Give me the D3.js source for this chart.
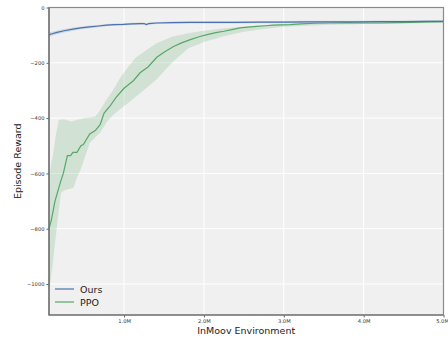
<!DOCTYPE html>
<html>
<head>
<meta charset="utf-8">
<script src="https://cdn.jsdelivr.net/npm/d3@7"></script>
<style>
  body { margin: 0; background: #ffffff; }
  text { font-family: "DejaVu Sans", sans-serif; }
</style>
</head>
<body>
<div id="chart"></div>
<script>
// x in millions of steps
const xTicks = [1, 2, 3, 4, 5];
const yTicks = [0, -200, -400, -600, -800, -1000];

// Ours (blue)
const oursX    = [0.06, 0.1, 0.16, 0.25, 0.36, 0.46, 0.57, 0.68, 0.78, 0.88, 0.99, 1.1, 1.2, 1.25, 1.28, 1.31, 1.41, 1.6, 1.83, 2.1, 2.4, 2.7, 3.0, 3.3, 3.6, 3.9, 4.2, 4.5, 4.8, 5.0];
const oursMean = [-98, -95, -90, -84, -78, -74, -70, -67, -64, -62, -61, -59, -58, -58, -62, -58, -56, -55, -54, -54, -54, -53, -53, -52, -52, -52, -51, -51, -50, -50];
const oursLo   = [-106, -102, -97, -90, -84, -79, -75, -71, -68, -66, -65, -63, -62, -62, -66, -62, -60, -59, -58, -58, -58, -57, -57, -56, -56, -56, -55, -55, -54, -54];
const oursHi   = [-90, -88, -84, -78, -72, -69, -65, -63, -60, -58, -57, -55, -54, -54, -58, -54, -52, -51, -50, -50, -50, -49, -49, -48, -48, -48, -47, -47, -46, -46];

// PPO (green)
const ppoX    = [0.06, 0.09, 0.135, 0.18, 0.21, 0.24, 0.29, 0.33, 0.36, 0.41, 0.46, 0.49, 0.57, 0.64, 0.7, 0.75, 0.82, 0.9, 1.0, 1.05, 1.12, 1.2, 1.3, 1.41, 1.5, 1.62, 1.72, 1.83, 1.95, 2.04, 2.15, 2.25, 2.35, 2.45, 2.55, 2.66, 2.77, 2.87, 2.97, 3.08, 3.21, 3.4, 3.58, 3.8, 4.0, 4.21, 4.4, 4.59, 4.8, 5.0];
const ppoMean = [-800, -768, -700, -655, -625, -599, -536, -536, -524, -524, -500, -496, -457, -445, -424, -382, -358, -325, -292, -280, -264, -236, -215, -180, -162, -141, -128, -116, -105, -98, -91, -86, -80, -74, -71, -68, -66, -64, -63, -62, -59, -57, -56, -55, -56, -56, -55, -54, -52, -51];

const bandX  = [0.06, 0.09, 0.11, 0.14, 0.18, 0.21, 0.25, 0.29, 0.33, 0.37, 0.41, 0.45, 0.5, 0.57, 0.64, 0.7, 0.78, 0.86, 0.95, 1.05, 1.15, 1.25, 1.4, 1.6, 1.8, 2.0, 2.25, 2.5, 2.75, 3.0, 3.5, 4.0, 4.5, 5.0];
const ppoLo  = [-1040, -965, -920, -840, -740, -670, -662, -658, -655, -650, -615, -590, -550, -490, -470, -453, -415, -390, -368, -345, -322, -298, -262, -200, -148, -125, -104, -88, -78, -70, -63, -60, -58, -55];
const ppoHi  = [-620, -560, -534, -470, -408, -405, -404, -408, -412, -410, -406, -404, -400, -398, -394, -372, -334, -300, -255, -215, -180, -160, -130, -106, -93, -84, -75, -69, -64, -59, -55, -52, -50, -46];

const W = 448, H = 338;
const margin = {left: 49, right: 4.5, top: 7.5, bottom: 23};

const svg = d3.select('#chart').append('svg')
  .attr('width', W).attr('height', H);

const x = d3.scaleLinear().domain([0.06, 5.0]).range([margin.left, W - margin.right]);
const y = d3.scaleLinear().domain([-1112, 0]).range([H - margin.bottom, margin.top]);

// background
svg.append('rect')
  .attr('x', margin.left).attr('y', margin.top)
  .attr('width', W - margin.right - margin.left)
  .attr('height', H - margin.bottom - margin.top)
  .attr('fill', '#f0f0f0');

// grid
svg.append('g').selectAll('line').data(xTicks).enter().append('line')
  .attr('x1', d => x(d)).attr('x2', d => x(d))
  .attr('y1', margin.top).attr('y2', H - margin.bottom)
  .attr('stroke', '#ffffff').attr('stroke-width', 1);
svg.append('g').selectAll('line').data(yTicks).enter().append('line')
  .attr('y1', d => y(d)).attr('y2', d => y(d))
  .attr('x1', margin.left).attr('x2', W - margin.right)
  .attr('stroke', '#ffffff').attr('stroke-width', 1);

const plot = svg.append('g');

// bands
const ppoBand = bandX.map((d, i) => ({x: d, lo: ppoLo[i], hi: ppoHi[i]}));
const oursBand = oursX.map((d, i) => ({x: d, lo: oursLo[i], hi: oursHi[i]}));
const area = d3.area().x(d => x(d.x)).y0(d => y(d.lo)).y1(d => y(d.hi));

plot.append('path').datum(ppoBand).attr('d', area)
  .attr('fill', '#55a868').attr('fill-opacity', 0.2);
plot.append('path').datum(oursBand).attr('d', area)
  .attr('fill', '#4c72b0').attr('fill-opacity', 0.2);

// lines
const line = d3.line().x(d => x(d[0])).y(d => y(d[1]));
plot.append('path').datum(ppoX.map((d, i) => [d, ppoMean[i]])).attr('d', line)
  .attr('fill', 'none').attr('stroke', '#55a868').attr('stroke-width', 1.2);
plot.append('path').datum(oursX.map((d, i) => [d, oursMean[i]])).attr('d', line)
  .attr('fill', 'none').attr('stroke', '#4c72b0').attr('stroke-width', 1.2);

// axes
const fmtX = d => d.toFixed(1) + 'M';
const fmtY = d => d < 0 ? '\u2212' + Math.abs(d) : String(d);

const xAxis = svg.append('g')
  .attr('transform', 'translate(0,' + (H - margin.bottom) + ')')
  .call(d3.axisBottom(x).tickValues(xTicks).tickFormat(fmtX).tickSize(2.5).tickPadding(2));
const yAxis = svg.append('g')
  .attr('transform', 'translate(' + margin.left + ',0)')
  .call(d3.axisLeft(y).tickValues(yTicks).tickFormat(fmtY).tickSize(2.5).tickPadding(2));

[xAxis, yAxis].forEach(g => {
  g.select('.domain').remove();
  g.selectAll('line').attr('stroke', '#666');
  g.selectAll('text').style('font-size', '5.2px').attr('fill', '#333');
});
// keep the last x label inside the window
xAxis.selectAll('.tick').filter(d => d === 5).select('text').attr('dx', -1.5);

// spines
svg.append('rect')
  .attr('x', margin.left).attr('y', margin.top)
  .attr('width', W - margin.right - margin.left)
  .attr('height', H - margin.bottom - margin.top)
  .attr('fill', 'none').attr('stroke', '#8a8a8a').attr('stroke-width', 1.2);
svg.append('path')
  .attr('d', `M${margin.left},${margin.top}V${H - margin.bottom}H${W - margin.right}`)
  .attr('fill', 'none').attr('stroke', '#666').attr('stroke-width', 1.2);

// axis labels
svg.append('text')
  .attr('x', (margin.left + W - margin.right) / 2).attr('y', 334)
  .attr('text-anchor', 'middle').style('font-size', '9.5px').attr('fill', '#222')
  .text('InMoov Environment');
svg.append('text')
  .attr('transform', 'translate(21,' + ((margin.top + H - margin.bottom) / 2) + ') rotate(-90)')
  .attr('text-anchor', 'middle').style('font-size', '9.5px').attr('fill', '#222')
  .text('Episode Reward');

// legend
const legendItems = [{name: 'Ours', color: '#4c72b0'}, {name: 'PPO', color: '#55a868'}];
const legend = svg.append('g').attr('transform', 'translate(55,289)');
legend.selectAll('g').data(legendItems).enter().append('g')
  .attr('transform', (d, i) => 'translate(0,' + i * 13 + ')')
  .each(function(d) {
    const g = d3.select(this);
    g.append('line').attr('x1', 0).attr('x2', 19).attr('y1', 0).attr('y2', 0)
      .attr('stroke', d.color).attr('stroke-width', 1.2);
    g.append('text').attr('x', 25).attr('y', 3.5)
      .style('font-size', '9.5px').attr('fill', '#222').text(d.name);
  });
</script>
</body>
</html>
